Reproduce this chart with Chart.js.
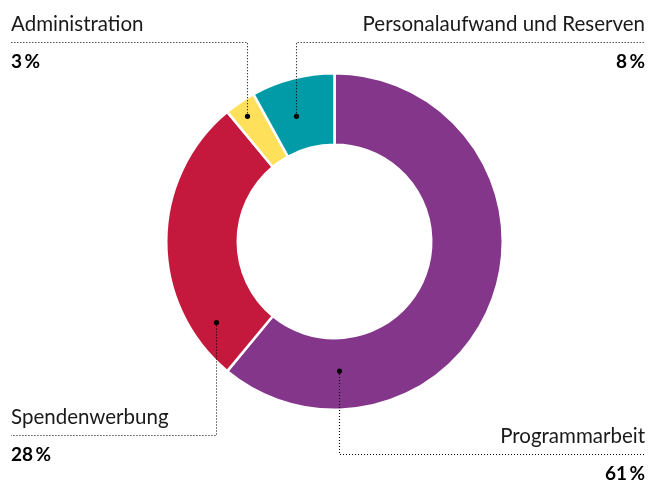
<!DOCTYPE html>
<html>
<head>
<meta charset="utf-8">
<script src="https://cdn.jsdelivr.net/npm/chart.js@4.4.1/dist/chart.umd.min.js"></script>
<style>
	html, body { margin: 0; padding: 0; background: #fff; }
	#wrap { width: 649px; height: 481px; position: relative; }
</style>
</head>
<body>
<div id="wrap"><canvas id="chart" width="649" height="481"></canvas></div>
<script>
// data
var categories = ['Programmarbeit', 'Spendenwerbung', 'Administration', 'Personalaufwand und Reserven'];
var shares = [61, 28, 3, 8];
var colors = ['#84368b', '#c4183c', '#ffe05a', '#009ba6'];

// where each callout sits: dot inside the slice (t along arc, r across ring), side and y of the dotted line
var callouts = [
	{ t: 0.81, r: 0.46, side: 'right', lineY: 454.5 },
	{ t: 0.16, r: 0.66, side: 'left', lineY: 435.5 },
	{ t: 0.44, r: 0.78, side: 'left', lineY: 42.5 },
	{ t: 0.40, r: 0.48, side: 'right', lineY: 42.5 }
];

var calloutPlugin = {
	id: 'callouts',
	afterDraw: function (chart) {
		var ctx = chart.ctx;
		var meta = chart.getDatasetMeta(0);
		var leftX = 11, rightX = 645;
		ctx.save();
		meta.data.forEach(function (arc, i) {
			var c = callouts[i];
			var p = arc.getProps(['x', 'y', 'startAngle', 'endAngle', 'innerRadius', 'outerRadius'], true);
			var a = p.startAngle + (p.endAngle - p.startAngle) * c.t;
			var rad = p.innerRadius + (p.outerRadius - p.innerRadius) * c.r;
			var px = Math.round(p.x + Math.cos(a) * rad) + 0.5;
			var py = p.y + Math.sin(a) * rad;

			// dotted leader
			ctx.strokeStyle = '#000';
			ctx.lineWidth = 1.1;
			ctx.setLineDash([1, 2]);
			ctx.beginPath();
			ctx.moveTo(px, py);
			ctx.lineTo(px, c.lineY);
			ctx.lineTo(c.side === 'left' ? leftX : rightX, c.lineY);
			ctx.stroke();
			ctx.setLineDash([]);

			// dot
			ctx.fillStyle = '#000';
			ctx.beginPath();
			ctx.arc(px, py, 2.6, 0, Math.PI * 2);
			ctx.fill();

			// texts
			var tx = c.side === 'left' ? leftX : rightX;
			ctx.textAlign = c.side;
			ctx.textBaseline = 'alphabetic';
			ctx.fillStyle = '#1a1a1a';
			ctx.font = '400 20.5px Lato';
			ctx.fillText(categories[i], tx, c.lineY - 12);
			ctx.fillStyle = '#000';
			ctx.font = 'bold 19px Lato';
			ctx.fillText(shares[i] + '\u2009%', tx, c.lineY + 25.5);
		});
		ctx.restore();
	}
};

new Chart(document.getElementById('chart'), {
	type: 'doughnut',
	data: {
		labels: categories,
		datasets: [{
			data: shares,
			backgroundColor: colors,
			borderColor: '#fff',
			borderWidth: 2.5,
			hoverOffset: 0
		}]
	},
	options: {
		responsive: false,
		animation: false,
		cutout: '57.5%',
		layout: {
			padding: { top: 72, bottom: 70, left: 165, right: 145 }
		},
		plugins: {
			legend: { display: false },
			tooltip: { enabled: false }
		}
	},
	plugins: [calloutPlugin]
});
</script>
</body>
</html>
